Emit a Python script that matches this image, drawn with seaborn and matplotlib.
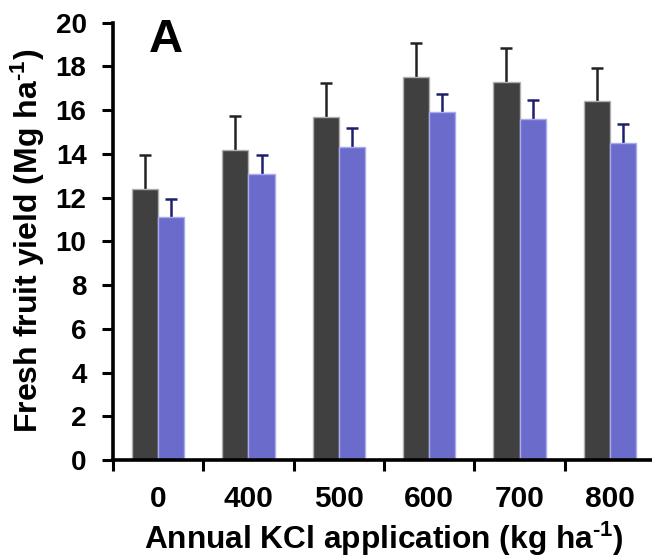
import matplotlib
matplotlib.use("Agg")
import matplotlib.pyplot as plt
import seaborn as sns
import pandas as pd
from matplotlib.ticker import FixedLocator, NullFormatter, FixedFormatter

# KCl rates and fresh fruit yields (Mg ha-1) for the two groups
rates = ["0", "400", "500", "600", "700", "800"]
yield_dark = [12.4, 14.2, 15.7, 17.5, 17.3, 16.4]
err_dark = [1.55, 1.55, 1.55, 1.55, 1.55, 1.55]
yield_blue = [11.1, 13.1, 14.3, 15.9, 15.6, 14.5]
err_blue = [0.85, 0.85, 0.87, 0.86, 0.87, 0.85]
groups = ["G1", "G2"]

bar_colors = ["#404040", "#6b6bcc"]
edge_colors = ["#b0b0b0", "#a8acee"]
err_colors = ["#222222", "#1e1e6e"]

sns.set_theme(style="white")
plt.rcParams["font.family"] = ["Liberation Sans", "DejaVu Sans"]
plt.rcParams["font.weight"] = "bold"
plt.rcParams["text.color"] = "black"
plt.rcParams["axes.labelcolor"] = "black"
plt.rcParams["xtick.color"] = "black"
plt.rcParams["ytick.color"] = "black"
plt.rcParams["mathtext.fontset"] = "custom"
plt.rcParams["mathtext.rm"] = "Liberation Sans:bold"
plt.rcParams["mathtext.bf"] = "Liberation Sans:bold"
plt.rcParams["mathtext.default"] = "bf"

df = pd.DataFrame({
    "rate": rates * 2,
    "yield": yield_dark + yield_blue,
    "group": [groups[0]] * len(rates) + [groups[1]] * len(rates),
})

fig = plt.figure(figsize=(6.52, 5.6), dpi=100)
ax = fig.add_axes([113 / 652, 100 / 560, 542 / 652, 437.3 / 560])

sns.barplot(data=df, x="rate", y="yield", hue="group", order=rates,
            hue_order=groups, palette=bar_colors, saturation=1,
            width=0.576, gap=0, errorbar=None, legend=False, ax=ax,
            linewidth=1)

# upper-only error bars: stem from bar top, cap at mean + error
errs = [err_dark, err_blue]
vals = [yield_dark, yield_blue]
bar_sets = list(ax.containers)
for i, cont in enumerate(bar_sets):
    for patch in cont.patches:
        patch.set_edgecolor(edge_colors[i])
        patch.set_zorder(2)
    xs = [p.get_x() + p.get_width() / 2 for p in cont.patches]
    tops = [v + e for v, e in zip(vals[i], errs[i])]
    ax.vlines(xs, vals[i], tops, colors=err_colors[i], linewidth=1.8,
              zorder=1)
    ax.plot(xs, tops, linestyle="none", marker="_", markersize=9,
            markeredgewidth=1.8, color=err_colors[i], zorder=1)

ax.set_ylim(0, 20)
ax.set_xlim(-0.5, 5.5)
ax.set_yticks(range(0, 21, 2))
ax.yaxis.set_major_formatter(FixedFormatter([str(v) for v in range(0, 21, 2)]))

# ticks between categories, labels centred under each pair
ax.xaxis.set_major_locator(FixedLocator([i - 0.5 for i in range(len(rates) + 1)]))
ax.xaxis.set_major_formatter(NullFormatter())
ax.xaxis.set_minor_locator(FixedLocator(list(range(len(rates)))))
ax.xaxis.set_minor_formatter(FixedFormatter(rates))
ax.tick_params(axis="x", which="major", direction="out", length=8, width=2.2,
               bottom=True, color="black")
ax.tick_params(axis="x", which="minor", length=0, pad=18, labelsize=21.5,
               bottom=True)
ax.tick_params(axis="y", direction="out", length=8, width=2.2, pad=11,
               labelsize=20, left=True, color="black")

for lbl in ax.get_xticklabels(minor=True) + ax.get_yticklabels():
    lbl.set_fontweight("bold")

sns.despine(ax=ax)
for s in ("left", "bottom"):
    ax.spines[s].set_linewidth(2.6)
    ax.spines[s].set_color("black")

ax.set_xlabel(r"Annual KCl application (kg ha$^{\text{-1}}$)", fontsize=22.8,
              fontweight="bold", labelpad=5)
ax.set_ylabel(r"Fresh fruit yield (Mg ha$^{\text{-1}}$)", fontsize=23,
              fontweight="bold", labelpad=6)
ax.text(166 / 652, 1 - 40.5 / 560, "A", transform=fig.transFigure,
        fontsize=34, fontweight="bold", ha="center", va="center")

fig.savefig("out.png", dpi=100)
